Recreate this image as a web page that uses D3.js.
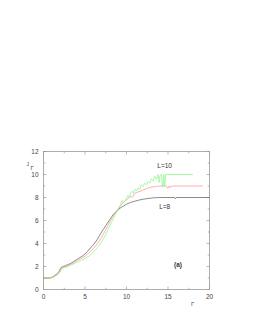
<!DOCTYPE html>
<html><head><meta charset="utf-8">
<script src="https://cdn.jsdelivr.net/npm/d3@7"></script>
<style>html,body{margin:0;padding:0;background:#fff;}svg{display:block;}</style>
</head><body>
<svg id="c" width="253" height="327"></svg>
<script>
// data
const xL8  = [0,0.6,1,1.5,1.9,2.1,2.4,3.25,4,5,5.66,6.47,6.87,7.5,8,8.5,9,9.5,10,11,12,13,14,15.8,15.9,16,20];
const yL8  = [1,1.0,1.05,1.3,1.6,1.9,2.0,2.26,2.6,3.1,3.6,4.35,4.85,5.55,6.1,6.6,6.95,7.2,7.42,7.68,7.85,7.95,8.0,8.0,7.88,8.0,8.0];
const xL9  = [0,0.6,1,1.5,1.9,2.15,2.5,3.25,4,5,5.66,6,6.5,7,7.5,8,8.5,9,9.5,10,10.3,10.5,10.7,11,11.5,12,12.5,13,13.5,14,14.8,15.0,15.1,15.3,15.4,19.2];
const yL9  = [1,1.0,1.04,1.25,1.55,1.85,1.97,2.18,2.5,2.9,3.3,3.55,4.0,4.55,5.2,5.9,6.5,7.0,7.45,7.8,7.98,8.1,8.0,8.35,8.5,8.65,8.8,8.9,8.95,9.0,9.0,8.8,9.0,8.85,9.0,9.0];
const xL10 = [0,0.6,1,1.5,2,2.2,2.6,3.25,4,5,5.66,6,6.5,7,7.5,8,8.5,9,9.3,9.5,9.6,9.8,10,10.2,10.35,10.5,10.7,10.85,11,11.2,11.4,11.6,11.8,12,12.2,12.4,12.6,12.8,13,13.2,13.4,13.6,13.8,13.95,14.05,14.2,14.35,14.5,14.6,14.75,18];
const yL10 = [1,1.0,1.03,1.2,1.5,1.75,1.9,2.1,2.35,2.7,3.0,3.25,3.65,4.15,4.8,5.55,6.3,7.0,7.4,7.75,7.55,7.7,7.95,8.2,8.0,8.35,8.55,8.35,8.7,8.6,8.85,8.7,9.1,8.95,9.25,9.1,9.4,9.25,9.6,9.45,9.85,9.6,10.0,9.3,9.9,10.0,8.9,10.0,9.0,10.0,10.0];
const xTicks = [0,5,10,15,20];
const yTicks = [0,2,4,6,8,10,12];
const labels = [{t:"L=10", x:14.6, y:10.6},{t:"L=8", x:14.6, y:7.0},{t:"(a)", x:16.2, y:2.0}];

const svg = d3.select("#c");
const L=43.5, R=209.5, T=151.5, B=289.5;
const x = d3.scaleLinear().domain([0,20]).range([L,R]);
const y = d3.scaleLinear().domain([0,12]).range([B,T]);
const gray="#999", font="Liberation Sans, Arial, sans-serif";

// frame
svg.append("rect").attr("x",L).attr("y",T).attr("width",R-L).attr("height",B-T)
  .attr("fill","none").attr("stroke",gray).attr("stroke-width",0.8);

// ticks (inward, all sides)
const g = svg.append("g").attr("stroke",gray).attr("stroke-width",0.7);
d3.range(0,20.01,2.5).forEach(v=>{
  const len = (v%5===0)?3:1.8;
  g.append("line").attr("x1",x(v)).attr("x2",x(v)).attr("y1",B).attr("y2",B-len);
  g.append("line").attr("x1",x(v)).attr("x2",x(v)).attr("y1",T).attr("y2",T+len);
});
d3.range(0,12.01,1).forEach(v=>{
  const len = (v%2===0)?3:1.8;
  g.append("line").attr("y1",y(v)).attr("y2",y(v)).attr("x1",L).attr("x2",L+len);
  g.append("line").attr("y1",y(v)).attr("y2",y(v)).attr("x1",R).attr("x2",R-len);
});

// tick labels
svg.append("g").selectAll("text").data(xTicks).join("text")
  .attr("x",d=>x(d)).attr("y",B+9).attr("text-anchor","middle")
  .attr("font-family",font).attr("font-size",6.5).attr("fill","#444").text(d=>d);
svg.append("g").selectAll("text").data(yTicks).join("text")
  .attr("x",L-5).attr("y",d=>y(d)+2.3).attr("text-anchor","end")
  .attr("font-family",font).attr("font-size",6.5).attr("fill","#444").text(d=>d);

// axis labels
svg.append("text").attr("x",26.5).attr("y",166).attr("font-family",font).attr("font-size",5).attr("fill","#444").text("J");
svg.append("text").attr("x",30.5).attr("y",169.5).attr("font-family",font).attr("font-size",6).attr("fill","#444").text("Γ");
svg.append("text").attr("x",191).attr("y",305.5).attr("font-family",font).attr("font-size",6).attr("fill","#444").text("Γ");

// curves
const line = d3.line().x(d=>x(d[0])).y(d=>y(d[1])).curve(d3.curveMonotoneX);
const series = [
  {xs:xL8, ys:yL8, c:"#5a5a5a"},
  {xs:xL9, ys:yL9, c:"#ff8c8c"},
  {xs:xL10, ys:yL10, c:"#7cf57c"}
];
series.forEach(s=>{
  svg.append("path").datum(s.xs.map((v,i)=>[v,s.ys[i]]))
    .attr("d",line).attr("fill","none").attr("stroke",s.c).attr("stroke-width",0.7);
});

// labels
svg.append("g").selectAll("text").data(labels).join("text")
  .attr("x",d=>x(d.x)).attr("y",d=>y(d.y)).attr("text-anchor","middle")
  .attr("font-family",font).attr("font-size",6.5)
  .attr("font-weight",d=>d.t==="(a)"?"bold":"normal").attr("fill","#333").text(d=>d.t);
</script>
</body></html>
